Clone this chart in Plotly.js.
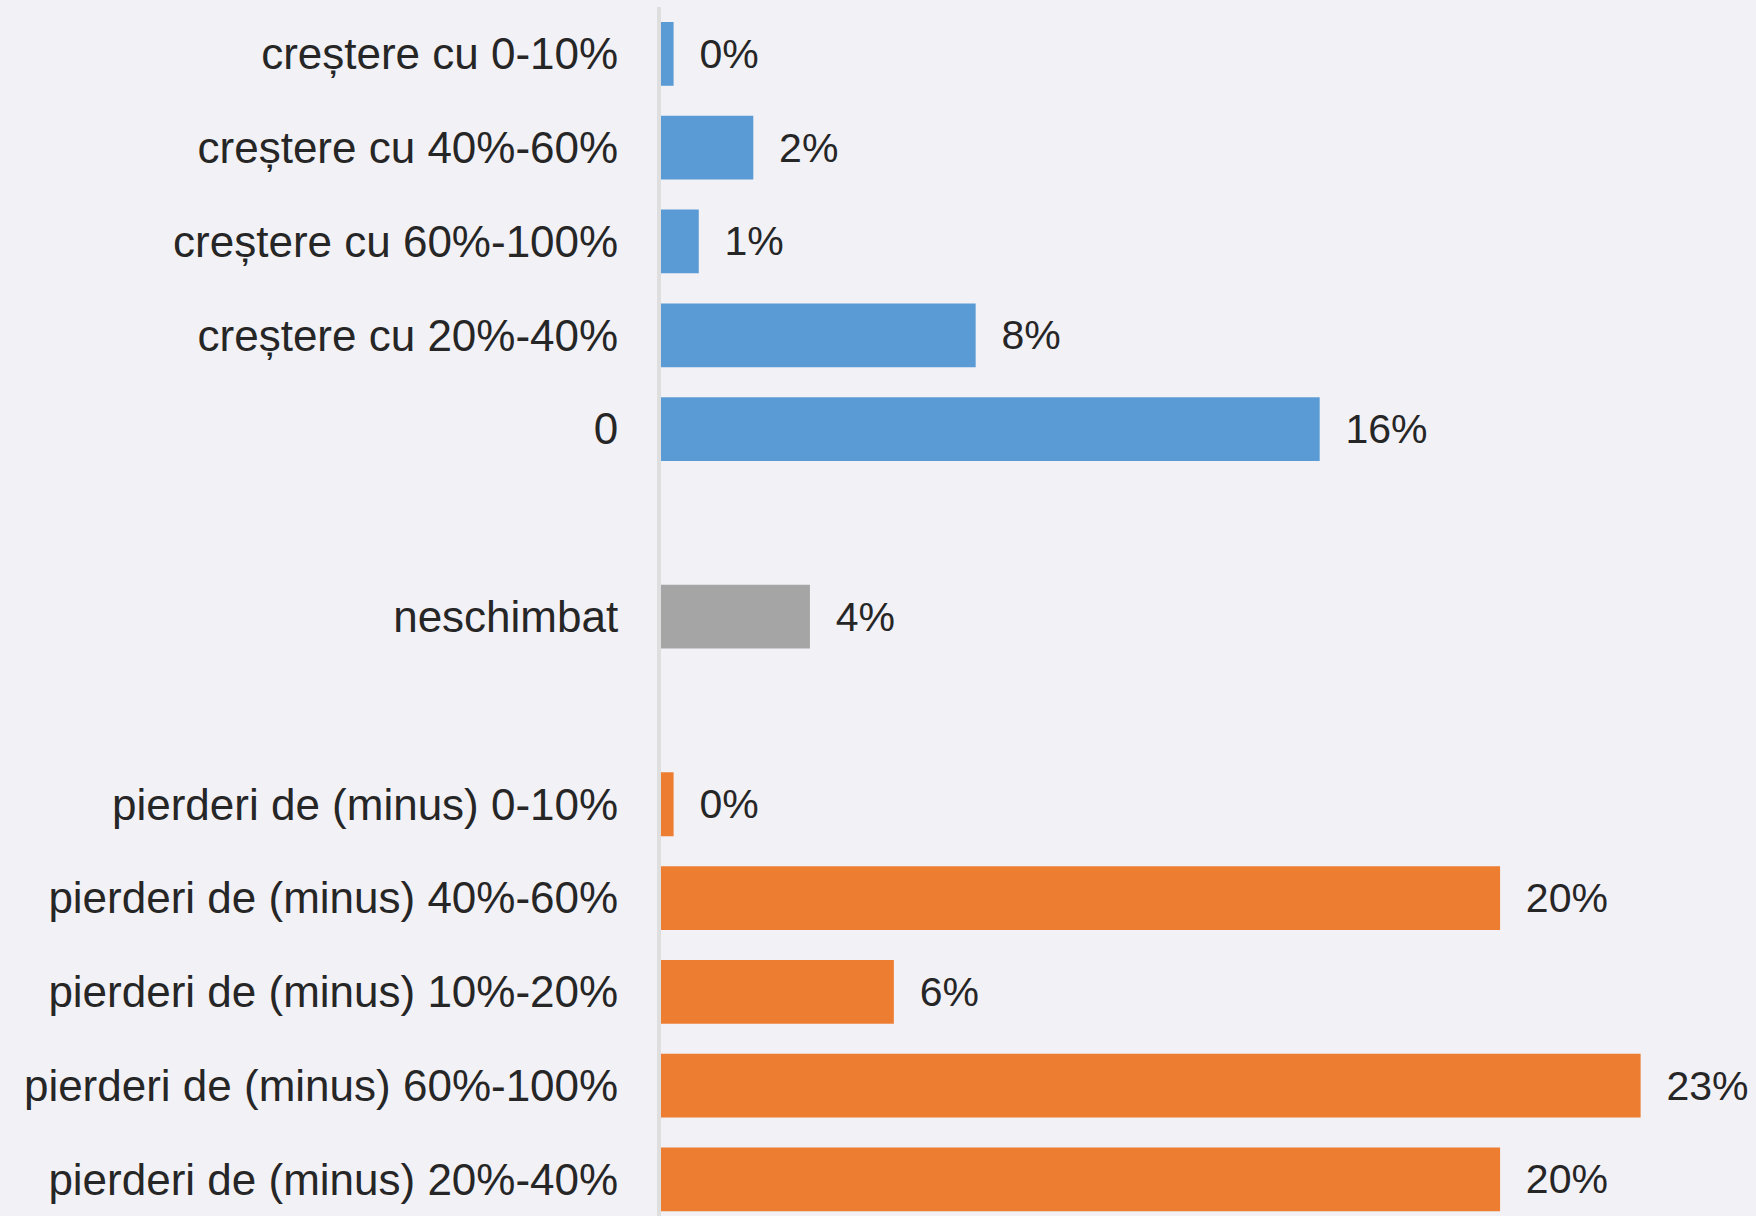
<!DOCTYPE html>
<html>
<head>
<meta charset="utf-8">
<script src="https://cdn.plot.ly/plotly-3.0.1.min.js"></script>
<style>
  html, body { margin: 0; padding: 0; background: #F2F1F6; }
  #chart { width: 1756px; height: 1216px; }
</style>
</head>
<body>
<div id="chart"></div>
<script>
// Data (values in percent)
const growthCats = ['creștere cu 0-10%', 'creștere cu 40%-60%', 'creștere cu 60%-100%', 'creștere cu 20%-40%', '0'];
const growthVals = [0.3, 2.2, 0.9, 7.5, 15.7];

const unchangedCats = ['neschimbat'];
const unchangedVals = [3.55];

const lossCats = ['pierderi de (minus) 0-10%', 'pierderi de (minus) 40%-60%', 'pierderi de (minus) 10%-20%', 'pierderi de (minus) 60%-100%', 'pierderi de (minus) 20%-40%'];
const lossVals = [0.3, 20.0, 5.55, 23.35, 20.0];

const spacerCats = [' ', '  '];

const categoryOrder = [].concat(growthCats, [spacerCats[0]], unchangedCats, [spacerCats[1]], lossCats);

const labelFont = { family: 'Liberation Sans, Arial, sans-serif', size: 41, color: '#262626' };
const pad = '\u00a0\u00a0';

function barTrace(cats, vals, color) {
  return {
    type: 'bar',
    orientation: 'h',
    y: cats,
    x: vals,
    marker: { color: color },
    texttemplate: pad + '%{x:.0f}%',
    textposition: 'outside',
    cliponaxis: false,
    textfont: labelFont,
    hoverinfo: 'skip',
    showlegend: false
  };
}

const traces = [
  barTrace(growthCats, growthVals, '#5B9BD5'),
  barTrace(unchangedCats, unchangedVals, '#A5A5A5'),
  barTrace(lossCats, lossVals, '#ED7D31'),
  { type: 'bar', orientation: 'h', y: spacerCats, x: [null, null], showlegend: false, hoverinfo: 'skip' }
];

const layout = {
  width: 1756,
  height: 1216,
  paper_bgcolor: '#F2F1F6',
  plot_bgcolor: '#F2F1F6',
  margin: { l: 661, r: 0, t: 7, b: 0 },
  barmode: 'overlay',
  bargap: 0.32,
  showlegend: false,
  xaxis: {
    range: [0, 26.1],
    visible: false,
    showgrid: false,
    zeroline: false
  },
  yaxis: {
    type: 'category',
    categoryorder: 'array',
    categoryarray: categoryOrder,
    range: [12.39, -0.5],
    showline: true,
    linecolor: '#DEDEDE',
    linewidth: 4,
    showgrid: false,
    zeroline: false,
    ticks: 'outside',
    ticklen: 30,
    tickcolor: 'rgba(0,0,0,0)',
    tickfont: { family: 'Liberation Sans, Arial, sans-serif', size: 44, color: '#262626' }
  }
};

Plotly.newPlot('chart', traces, layout, { staticPlot: true, displayModeBar: false });
</script>
</body>
</html>
